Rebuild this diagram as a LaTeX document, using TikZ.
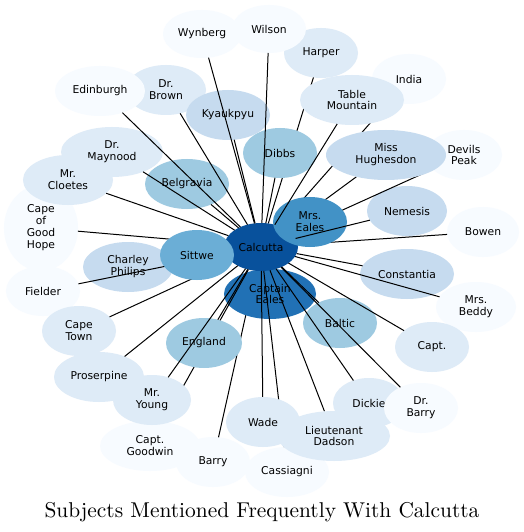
\documentclass[tikz,border=0pt]{standalone}
\usepackage{fontspec}
\usetikzlibrary{shapes.geometric}
\newfontfamily\lblfont{DejaVu Sans}
\newfontfamily\ttlfont{lmroman10-regular.otf}
\definecolor{b0}{HTML}{F7FBFF}
\definecolor{b1}{HTML}{DEEBF7}
\definecolor{b2}{HTML}{C6DBEF}
\definecolor{b3}{HTML}{9ECAE1}
\definecolor{b4}{HTML}{6BAED6}
\definecolor{b5}{HTML}{4292C6}
\definecolor{b6}{HTML}{2171B5}
\definecolor{b7}{HTML}{08519C}
\pgfdeclarelayer{nodesA}
\pgfdeclarelayer{edgesA}
\pgfdeclarelayer{nodesB}
\pgfdeclarelayer{edgesB}
\pgfsetlayers{nodesA,edgesA,nodesB,edgesB,main}
\begin{document}
\begin{tikzpicture}[x=1bp,y=-1bp,
  nd/.style 2 args={ellipse, minimum width=#1bp, minimum height=#2bp, inner sep=0pt, outer sep=0pt,
    draw=none, align=center, text=black, font=\lblfont\fontsize{10.8}{12}\selectfont},
  edge/.style={draw=black, line width=1bp}]
\useasboundingbox (0,0) rectangle (524,532);
\begin{pgfonlayer}{nodesA}
\fill[white] (0,0) rectangle (524,532);
\node[nd={78}{48}, fill=b0] (wynberg) at (202,34) {Wynberg};
\node[nd={74}{50}, fill=b1] (harper) at (321,53) {Harper};
\node[nd={74}{48}, fill=b0] (wilson) at (269,29) {Wilson};
\node[nd={80}{50}, fill=b1] (drbrown) at (166,90) {Dr.\\Brown};
\node[nd={90}{50}, fill=b0] (edinburgh) at (100,91) {Edinburgh};
\node[nd={84}{50}, fill=b2] (kyaukpyu) at (228,115) {Kyaukpyu};
\node[nd={74}{50}, fill=b0] (india) at (409,79) {India};
\node[nd={76}{50}, fill=b0] (devils) at (464,155) {Devils\\Peak};
\node[nd={102}{50}, fill=b1] (maynood) at (112,152) {Dr.\\Maynood};
\node[nd={74}{86}, fill=b0] (capegh) at (41,228) {Cape\\of\\Good\\Hope};
\node[nd={90}{50}, fill=b1] (cloetes) at (68,180) {Mr.\\Cloetes};
\node[nd={84}{50}, fill=b3] (belgravia) at (187,184) {Belgravia};
\node[nd={80}{50}, fill=b2] (nemesis) at (407,211) {Nemesis};
\node[nd={72}{50}, fill=b0] (bowen) at (483,232) {Bowen};
\node[nd={90}{50}, fill=b2] (charley) at (128,267) {Charley\\Philips};
\node[nd={94}{50}, fill=b2] (constantia) at (407,274) {Constantia};
\node[nd={74}{50}, fill=b0] (fielder) at (43,291) {Fielder};
\node[nd={74}{50}, fill=b1] (capetown) at (79,331) {Cape\\Town};
\node[nd={80}{50}, fill=b0] (mrsbeddy) at (476,307) {Mrs.\\Beddy};
\node[nd={74}{50}, fill=b1] (capt) at (432,347) {Capt.};
\node[nd={90}{50}, fill=b1] (proserpine) at (99,377) {Proserpine};
\node[nd={100}{50}, fill=b0] (goodwin) at (150,446) {Capt.\\Goodwin};
\node[nd={74}{50}, fill=b0] (barry) at (213,462) {Barry};
\node[nd={84}{50}, fill=b0] (cassiagni) at (287,472) {Cassiagni};
\node[nd={72}{50}, fill=b1] (dickie) at (369,403) {Dickie};
\node[nd={74}{50}, fill=b0] (drbarry) at (421,408) {Dr.\\Barry};
\end{pgfonlayer}

\begin{pgfonlayer}{nodesB}
\node[nd={92}{50}, fill=b6] (captaineales) at (270,294) {Captain\\Eales};
\node[nd={74}{48}, fill=b7] (calcutta) at (261,247) {Calcutta};
\end{pgfonlayer}

\begin{pgfonlayer}{edgesA}
\draw[edge] (calcutta) -- (harper);
\draw[edge] (calcutta) -- (india);
\draw[edge] (calcutta) -- (devils);
\draw[edge] (calcutta) -- (bowen);
\draw[edge] (calcutta) -- (capegh);
\draw[edge] (calcutta) -- (fielder);
\draw[edge] (calcutta) -- (capetown);
\draw[edge] (calcutta) -- (charley);
\draw[edge] (calcutta) -- (barry);
\draw[edge] (calcutta) -- (captaineales);
\end{pgfonlayer}

\begin{pgfonlayer}{nodesB}
\draw[edge] (calcutta) -- (goodwin);
\node[nd={74}{50}, fill=b3] (baltic) at (340,323) {Baltic};
\node[nd={74}{50}, fill=b3] (dibbs) at (280,153) {Dibbs};
\node[nd={104}{50}, fill=b1] (tablemtn) at (352,100) {Table\\Mountain};
\node[nd={120}{50}, fill=b2] (hughesdon) at (386,155) {Miss\\Hughesdon};
\node[nd={74}{50}, fill=b4] (sittwe) at (197,255) {Sittwe};
\node[nd={74}{50}, fill=b5] (mrseales) at (310,222) {Mrs.\\Eales};
\node[nd={76}{50}, fill=b3] (england) at (204,343) {England};
\node[nd={78}{50}, fill=b1] (mryoung) at (152,400) {Mr.\\Young};
\end{pgfonlayer}

\begin{pgfonlayer}{edgesA}
\draw[edge] (calcutta) -- (hughesdon);
\draw[edge] (calcutta) -- (sittwe);
\draw[edge] (calcutta) -- (mrseales);
\end{pgfonlayer}

\node[nd={74}{50}, fill=b1] (wade) at (263,422) {Wade};
\node[nd={112}{50}, fill=b1] (dadson) at (334,436) {Lieutenant\\Dadson};

\begin{pgfonlayer}{edgesB}
\draw[edge] (calcutta) -- (wynberg);
\draw[edge] (calcutta) -- (wilson);
\draw[edge] (calcutta) -- (tablemtn);
\draw[edge] (calcutta) -- (dibbs);
\draw[edge] (calcutta) -- (kyaukpyu);
\draw[edge] (calcutta) -- (drbrown);
\draw[edge] (calcutta) -- (edinburgh);
\draw[edge] (calcutta) -- (maynood);
\draw[edge] (calcutta) -- (cloetes);
\draw[edge] (calcutta) -- (belgravia);
\draw[edge] (calcutta) -- (nemesis);
\draw[edge] (calcutta) -- (constantia);
\draw[edge] (calcutta) -- (mrsbeddy);
\draw[edge] (calcutta) -- (capt);
\draw[edge] (calcutta) -- (baltic);
\draw[edge] (calcutta) -- (drbarry);
\draw[edge] (calcutta) -- (dickie);
\draw[edge] (calcutta) -- (dadson);
\draw[edge] (calcutta) -- (wade);
\draw[edge] (calcutta) -- (cassiagni);
\draw[edge] (calcutta) -- (england);
\draw[edge] (calcutta) -- (mryoung);
\draw[edge] (calcutta) -- (proserpine);
\end{pgfonlayer}

\node[anchor=base, inner sep=0pt, font=\ttlfont\fontsize{21.5}{26}\selectfont] (title) at (262,517) {Subjects Mentioned Frequently With Calcutta};
\end{tikzpicture}
\end{document}
